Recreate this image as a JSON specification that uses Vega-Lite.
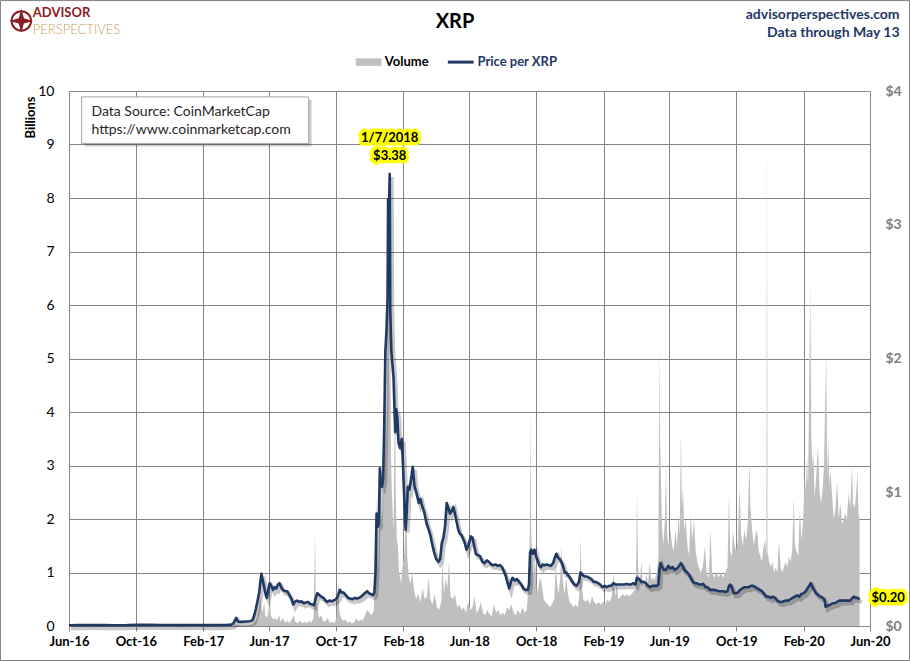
{
  "$schema": "https://vega.github.io/schema/vega-lite/v6.json",
  "description": "XRP price and trading volume, Jun-2016 to May-2020",
  "width": 801,
  "height": 535,
  "autosize": "none",
  "padding": {"left": 69, "top": 91, "right": 40, "bottom": 35},
  "background": "white",
  "config": {
    "view": {"stroke": null},
    "font": "Lato",
    "axis": {"labelFont": "Lato", "titleFont": "Lato"}
  },
  "datasets": {
    "volume": [
      {"d": "2016-06-01", "v": 0.0005}, {"d": "2016-09-01", "v": 0.001}, {"d": "2016-12-01", "v": 0.001},
      {"d": "2017-02-01", "v": 0.001}, {"d": "2017-03-20", "v": 0.003}, {"d": "2017-03-28", "v": 0.01},
      {"d": "2017-04-01", "v": 0.03}, {"d": "2017-04-05", "v": 0.02}, {"d": "2017-04-15", "v": 0.01},
      {"d": "2017-04-25", "v": 0.015}, {"d": "2017-05-01", "v": 0.03}, {"d": "2017-05-06", "v": 0.08},
      {"d": "2017-05-10", "v": 0.15}, {"d": "2017-05-13", "v": 0.32}, {"d": "2017-05-16", "v": 0.55},
      {"d": "2017-05-18", "v": 0.35}, {"d": "2017-05-20", "v": 0.25}, {"d": "2017-05-23", "v": 0.45},
      {"d": "2017-05-25", "v": 0.2}, {"d": "2017-05-28", "v": 0.15}, {"d": "2017-05-31", "v": 0.3},
      {"d": "2017-06-02", "v": 0.6}, {"d": "2017-06-04", "v": 0.2}, {"d": "2017-06-08", "v": 0.12},
      {"d": "2017-06-12", "v": 0.15}, {"d": "2017-06-15", "v": 0.1}, {"d": "2017-06-19", "v": 0.2},
      {"d": "2017-06-22", "v": 0.08}, {"d": "2017-06-26", "v": 0.15}, {"d": "2017-06-30", "v": 0.06},
      {"d": "2017-07-04", "v": 0.1}, {"d": "2017-07-08", "v": 0.05}, {"d": "2017-07-12", "v": 0.12},
      {"d": "2017-07-16", "v": 0.2}, {"d": "2017-07-19", "v": 0.08}, {"d": "2017-07-23", "v": 0.05},
      {"d": "2017-07-27", "v": 0.1}, {"d": "2017-08-01", "v": 0.05}, {"d": "2017-08-05", "v": 0.08},
      {"d": "2017-08-09", "v": 0.05}, {"d": "2017-08-13", "v": 0.1}, {"d": "2017-08-17", "v": 0.06},
      {"d": "2017-08-21", "v": 0.15}, {"d": "2017-08-24", "v": 1.75}, {"d": "2017-08-25", "v": 0.5},
      {"d": "2017-08-28", "v": 0.35}, {"d": "2017-08-31", "v": 0.15}, {"d": "2017-09-04", "v": 0.2},
      {"d": "2017-09-08", "v": 0.08}, {"d": "2017-09-12", "v": 0.1}, {"d": "2017-09-16", "v": 0.15},
      {"d": "2017-09-20", "v": 0.06}, {"d": "2017-09-24", "v": 0.08}, {"d": "2017-09-28", "v": 0.05},
      {"d": "2017-10-02", "v": 0.15}, {"d": "2017-10-05", "v": 0.85}, {"d": "2017-10-07", "v": 0.3},
      {"d": "2017-10-10", "v": 0.15}, {"d": "2017-10-14", "v": 0.1}, {"d": "2017-10-18", "v": 0.12},
      {"d": "2017-10-22", "v": 0.06}, {"d": "2017-10-26", "v": 0.08}, {"d": "2017-10-30", "v": 0.05},
      {"d": "2017-11-03", "v": 0.06}, {"d": "2017-11-07", "v": 0.15}, {"d": "2017-11-11", "v": 0.08},
      {"d": "2017-11-15", "v": 0.12}, {"d": "2017-11-19", "v": 0.1}, {"d": "2017-11-23", "v": 0.2},
      {"d": "2017-11-27", "v": 0.3}, {"d": "2017-12-01", "v": 0.25}, {"d": "2017-12-05", "v": 0.2},
      {"d": "2017-12-09", "v": 0.3}, {"d": "2017-12-12", "v": 1.2}, {"d": "2017-12-13", "v": 2.4},
      {"d": "2017-12-15", "v": 1.8}, {"d": "2017-12-17", "v": 1.1}, {"d": "2017-12-19", "v": 2.2},
      {"d": "2017-12-20", "v": 3.0}, {"d": "2017-12-22", "v": 2.2}, {"d": "2017-12-24", "v": 1.9},
      {"d": "2017-12-26", "v": 2.5}, {"d": "2017-12-27", "v": 3.1}, {"d": "2017-12-28", "v": 2.6},
      {"d": "2017-12-29", "v": 4.2}, {"d": "2017-12-30", "v": 5.5}, {"d": "2017-12-31", "v": 3.2},
      {"d": "2018-01-02", "v": 4.0}, {"d": "2018-01-03", "v": 5.0}, {"d": "2018-01-04", "v": 8.5},
      {"d": "2018-01-05", "v": 5.2}, {"d": "2018-01-06", "v": 4.3}, {"d": "2018-01-07", "v": 5.8},
      {"d": "2018-01-08", "v": 6.2}, {"d": "2018-01-09", "v": 3.6}, {"d": "2018-01-10", "v": 2.8},
      {"d": "2018-01-12", "v": 2.2}, {"d": "2018-01-14", "v": 1.8}, {"d": "2018-01-16", "v": 3.8},
      {"d": "2018-01-17", "v": 4.2}, {"d": "2018-01-18", "v": 2.5}, {"d": "2018-01-20", "v": 1.6},
      {"d": "2018-01-22", "v": 1.5}, {"d": "2018-01-24", "v": 1.0}, {"d": "2018-01-26", "v": 0.9},
      {"d": "2018-01-28", "v": 0.8}, {"d": "2018-01-30", "v": 1.1}, {"d": "2018-02-01", "v": 1.2},
      {"d": "2018-02-03", "v": 1.4}, {"d": "2018-02-05", "v": 2.0}, {"d": "2018-02-06", "v": 2.3},
      {"d": "2018-02-08", "v": 1.3}, {"d": "2018-02-11", "v": 0.9}, {"d": "2018-02-14", "v": 0.8},
      {"d": "2018-02-17", "v": 1.0}, {"d": "2018-02-20", "v": 0.7}, {"d": "2018-02-24", "v": 0.5},
      {"d": "2018-02-28", "v": 0.6}, {"d": "2018-03-04", "v": 0.45}, {"d": "2018-03-08", "v": 0.7},
      {"d": "2018-03-12", "v": 0.5}, {"d": "2018-03-16", "v": 0.55}, {"d": "2018-03-19", "v": 0.9},
      {"d": "2018-03-22", "v": 0.5}, {"d": "2018-03-26", "v": 0.4}, {"d": "2018-03-30", "v": 0.6},
      {"d": "2018-04-03", "v": 0.35}, {"d": "2018-04-07", "v": 0.3}, {"d": "2018-04-11", "v": 0.45},
      {"d": "2018-04-13", "v": 1.2}, {"d": "2018-04-16", "v": 0.6}, {"d": "2018-04-19", "v": 0.9},
      {"d": "2018-04-22", "v": 0.7}, {"d": "2018-04-25", "v": 1.2}, {"d": "2018-04-28", "v": 0.55},
      {"d": "2018-05-02", "v": 0.5}, {"d": "2018-05-06", "v": 0.6}, {"d": "2018-05-10", "v": 0.35},
      {"d": "2018-05-14", "v": 0.4}, {"d": "2018-05-18", "v": 0.3}, {"d": "2018-05-22", "v": 0.35},
      {"d": "2018-05-26", "v": 0.25}, {"d": "2018-05-30", "v": 0.45}, {"d": "2018-06-03", "v": 0.3},
      {"d": "2018-06-07", "v": 0.35}, {"d": "2018-06-11", "v": 0.55}, {"d": "2018-06-14", "v": 0.25},
      {"d": "2018-06-18", "v": 0.3}, {"d": "2018-06-22", "v": 0.45}, {"d": "2018-06-26", "v": 0.25},
      {"d": "2018-06-30", "v": 0.2}, {"d": "2018-07-04", "v": 0.3}, {"d": "2018-07-08", "v": 0.22},
      {"d": "2018-07-12", "v": 0.18}, {"d": "2018-07-16", "v": 0.4}, {"d": "2018-07-20", "v": 0.25},
      {"d": "2018-07-24", "v": 0.3}, {"d": "2018-07-28", "v": 0.2}, {"d": "2018-08-01", "v": 0.25},
      {"d": "2018-08-05", "v": 0.2}, {"d": "2018-08-09", "v": 0.35}, {"d": "2018-08-13", "v": 0.3},
      {"d": "2018-08-17", "v": 0.4}, {"d": "2018-08-21", "v": 0.25}, {"d": "2018-08-25", "v": 0.2},
      {"d": "2018-08-29", "v": 0.3}, {"d": "2018-09-02", "v": 0.22}, {"d": "2018-09-06", "v": 0.35},
      {"d": "2018-09-10", "v": 0.25}, {"d": "2018-09-14", "v": 0.3}, {"d": "2018-09-18", "v": 0.9},
      {"d": "2018-09-20", "v": 2.2}, {"d": "2018-09-21", "v": 4.1}, {"d": "2018-09-22", "v": 1.8},
      {"d": "2018-09-24", "v": 1.2}, {"d": "2018-09-26", "v": 0.9}, {"d": "2018-09-29", "v": 1.3},
      {"d": "2018-10-02", "v": 0.6}, {"d": "2018-10-05", "v": 0.7}, {"d": "2018-10-08", "v": 0.9},
      {"d": "2018-10-11", "v": 0.8}, {"d": "2018-10-15", "v": 0.5}, {"d": "2018-10-18", "v": 0.45},
      {"d": "2018-10-22", "v": 0.4}, {"d": "2018-10-26", "v": 0.35}, {"d": "2018-10-30", "v": 0.4},
      {"d": "2018-11-03", "v": 0.5}, {"d": "2018-11-06", "v": 1.2}, {"d": "2018-11-08", "v": 0.8},
      {"d": "2018-11-11", "v": 0.6}, {"d": "2018-11-14", "v": 0.9}, {"d": "2018-11-16", "v": 1.5},
      {"d": "2018-11-19", "v": 0.8}, {"d": "2018-11-22", "v": 0.6}, {"d": "2018-11-25", "v": 0.9},
      {"d": "2018-11-28", "v": 0.6}, {"d": "2018-12-01", "v": 0.45}, {"d": "2018-12-05", "v": 0.4},
      {"d": "2018-12-08", "v": 0.35}, {"d": "2018-12-12", "v": 0.4}, {"d": "2018-12-16", "v": 0.35},
      {"d": "2018-12-19", "v": 0.6}, {"d": "2018-12-21", "v": 1.65}, {"d": "2018-12-23", "v": 0.8},
      {"d": "2018-12-26", "v": 0.5}, {"d": "2018-12-30", "v": 0.45}, {"d": "2019-01-03", "v": 0.5},
      {"d": "2019-01-07", "v": 0.4}, {"d": "2019-01-11", "v": 0.55}, {"d": "2019-01-15", "v": 0.45},
      {"d": "2019-01-19", "v": 0.4}, {"d": "2019-01-23", "v": 0.45}, {"d": "2019-01-27", "v": 0.4},
      {"d": "2019-01-31", "v": 0.45}, {"d": "2019-02-04", "v": 0.4}, {"d": "2019-02-08", "v": 0.5},
      {"d": "2019-02-12", "v": 0.45}, {"d": "2019-02-16", "v": 0.55}, {"d": "2019-02-19", "v": 1.0},
      {"d": "2019-02-22", "v": 0.55}, {"d": "2019-02-25", "v": 0.8}, {"d": "2019-02-28", "v": 0.5},
      {"d": "2019-03-04", "v": 0.55}, {"d": "2019-03-08", "v": 0.6}, {"d": "2019-03-12", "v": 0.55},
      {"d": "2019-03-16", "v": 0.6}, {"d": "2019-03-20", "v": 0.55}, {"d": "2019-03-24", "v": 0.6},
      {"d": "2019-03-28", "v": 0.65}, {"d": "2019-04-01", "v": 0.7}, {"d": "2019-04-03", "v": 2.5},
      {"d": "2019-04-05", "v": 1.1}, {"d": "2019-04-08", "v": 0.8}, {"d": "2019-04-11", "v": 1.2},
      {"d": "2019-04-14", "v": 0.7}, {"d": "2019-04-17", "v": 0.75}, {"d": "2019-04-20", "v": 1.0},
      {"d": "2019-04-23", "v": 0.8}, {"d": "2019-04-26", "v": 1.2}, {"d": "2019-04-29", "v": 0.85},
      {"d": "2019-05-02", "v": 0.9}, {"d": "2019-05-05", "v": 0.85}, {"d": "2019-05-09", "v": 1.0},
      {"d": "2019-05-12", "v": 1.3}, {"d": "2019-05-14", "v": 5.3}, {"d": "2019-05-15", "v": 3.5},
      {"d": "2019-05-17", "v": 2.6}, {"d": "2019-05-19", "v": 1.8}, {"d": "2019-05-21", "v": 1.5},
      {"d": "2019-05-24", "v": 2.0}, {"d": "2019-05-26", "v": 3.0}, {"d": "2019-05-28", "v": 1.7},
      {"d": "2019-05-31", "v": 1.5}, {"d": "2019-06-03", "v": 1.8}, {"d": "2019-06-06", "v": 1.5},
      {"d": "2019-06-09", "v": 1.4}, {"d": "2019-06-12", "v": 1.8}, {"d": "2019-06-15", "v": 1.5},
      {"d": "2019-06-18", "v": 2.1}, {"d": "2019-06-20", "v": 1.7}, {"d": "2019-06-22", "v": 3.6},
      {"d": "2019-06-24", "v": 2.2}, {"d": "2019-06-26", "v": 2.6}, {"d": "2019-06-28", "v": 1.8},
      {"d": "2019-07-01", "v": 2.0}, {"d": "2019-07-04", "v": 1.5}, {"d": "2019-07-07", "v": 1.3},
      {"d": "2019-07-10", "v": 2.1}, {"d": "2019-07-13", "v": 1.6}, {"d": "2019-07-16", "v": 2.0},
      {"d": "2019-07-19", "v": 1.4}, {"d": "2019-07-22", "v": 1.2}, {"d": "2019-07-25", "v": 1.1},
      {"d": "2019-07-28", "v": 1.0}, {"d": "2019-08-01", "v": 1.1}, {"d": "2019-08-05", "v": 1.5},
      {"d": "2019-08-08", "v": 1.0}, {"d": "2019-08-12", "v": 0.9}, {"d": "2019-08-15", "v": 1.8},
      {"d": "2019-08-18", "v": 1.0}, {"d": "2019-08-22", "v": 0.9}, {"d": "2019-08-26", "v": 1.0},
      {"d": "2019-08-30", "v": 0.9}, {"d": "2019-09-03", "v": 1.0}, {"d": "2019-09-07", "v": 0.9},
      {"d": "2019-09-11", "v": 1.0}, {"d": "2019-09-15", "v": 1.1}, {"d": "2019-09-18", "v": 2.5},
      {"d": "2019-09-20", "v": 1.4}, {"d": "2019-09-23", "v": 1.3}, {"d": "2019-09-25", "v": 1.8},
      {"d": "2019-09-28", "v": 1.5}, {"d": "2019-10-01", "v": 1.4}, {"d": "2019-10-04", "v": 1.6},
      {"d": "2019-10-07", "v": 2.6}, {"d": "2019-10-10", "v": 1.7}, {"d": "2019-10-13", "v": 1.5},
      {"d": "2019-10-16", "v": 1.8}, {"d": "2019-10-19", "v": 1.6}, {"d": "2019-10-22", "v": 1.9},
      {"d": "2019-10-25", "v": 3.1}, {"d": "2019-10-27", "v": 2.2}, {"d": "2019-10-30", "v": 1.8},
      {"d": "2019-11-02", "v": 1.5}, {"d": "2019-11-05", "v": 1.7}, {"d": "2019-11-08", "v": 1.8},
      {"d": "2019-11-11", "v": 1.4}, {"d": "2019-11-14", "v": 1.3}, {"d": "2019-11-17", "v": 1.2},
      {"d": "2019-11-20", "v": 1.5}, {"d": "2019-11-23", "v": 1.6}, {"d": "2019-11-25", "v": 1.3},
      {"d": "2019-11-26", "v": 9.4}, {"d": "2019-11-27", "v": 1.4}, {"d": "2019-11-30", "v": 1.2},
      {"d": "2019-12-03", "v": 1.1}, {"d": "2019-12-06", "v": 1.2}, {"d": "2019-12-09", "v": 1.0},
      {"d": "2019-12-12", "v": 1.1}, {"d": "2019-12-15", "v": 1.0}, {"d": "2019-12-18", "v": 1.6},
      {"d": "2019-12-21", "v": 1.1}, {"d": "2019-12-24", "v": 1.0}, {"d": "2019-12-27", "v": 1.1},
      {"d": "2019-12-30", "v": 1.2}, {"d": "2020-01-02", "v": 1.1}, {"d": "2020-01-05", "v": 1.3},
      {"d": "2020-01-08", "v": 1.2}, {"d": "2020-01-11", "v": 1.4}, {"d": "2020-01-14", "v": 2.4},
      {"d": "2020-01-16", "v": 1.5}, {"d": "2020-01-19", "v": 1.4}, {"d": "2020-01-22", "v": 1.3},
      {"d": "2020-01-25", "v": 2.2}, {"d": "2020-01-28", "v": 1.6}, {"d": "2020-01-31", "v": 2.0},
      {"d": "2020-02-03", "v": 2.8}, {"d": "2020-02-05", "v": 2.5}, {"d": "2020-02-07", "v": 3.2},
      {"d": "2020-02-09", "v": 2.6}, {"d": "2020-02-11", "v": 4.3}, {"d": "2020-02-13", "v": 6.45},
      {"d": "2020-02-15", "v": 3.5}, {"d": "2020-02-17", "v": 3.0}, {"d": "2020-02-19", "v": 3.2},
      {"d": "2020-02-21", "v": 2.4}, {"d": "2020-02-24", "v": 2.8}, {"d": "2020-02-27", "v": 3.4},
      {"d": "2020-03-01", "v": 2.5}, {"d": "2020-03-04", "v": 2.3}, {"d": "2020-03-07", "v": 2.6},
      {"d": "2020-03-09", "v": 3.0}, {"d": "2020-03-12", "v": 4.5}, {"d": "2020-03-13", "v": 5.15},
      {"d": "2020-03-15", "v": 2.8}, {"d": "2020-03-17", "v": 3.5}, {"d": "2020-03-19", "v": 2.6},
      {"d": "2020-03-21", "v": 2.9}, {"d": "2020-03-24", "v": 2.4}, {"d": "2020-03-27", "v": 2.0},
      {"d": "2020-03-30", "v": 2.2}, {"d": "2020-04-02", "v": 2.7}, {"d": "2020-04-05", "v": 2.0},
      {"d": "2020-04-08", "v": 2.3}, {"d": "2020-04-11", "v": 1.9}, {"d": "2020-04-14", "v": 2.0},
      {"d": "2020-04-17", "v": 2.1}, {"d": "2020-04-20", "v": 2.0}, {"d": "2020-04-23", "v": 2.5},
      {"d": "2020-04-26", "v": 2.2}, {"d": "2020-04-29", "v": 3.0}, {"d": "2020-05-01", "v": 2.3},
      {"d": "2020-05-04", "v": 2.2}, {"d": "2020-05-07", "v": 2.5}, {"d": "2020-05-09", "v": 2.9},
      {"d": "2020-05-11", "v": 2.1}, {"d": "2020-05-13", "v": 2.0}
    ],
    "price": [
      {"d": "2016-06-01", "p": 0.006}, {"d": "2016-06-20", "p": 0.0065}, {"d": "2016-07-10", "p": 0.0068},
      {"d": "2016-08-01", "p": 0.0062}, {"d": "2016-08-25", "p": 0.006}, {"d": "2016-09-15", "p": 0.0064},
      {"d": "2016-10-05", "p": 0.0092}, {"d": "2016-10-25", "p": 0.0085}, {"d": "2016-11-15", "p": 0.008},
      {"d": "2016-12-05", "p": 0.007}, {"d": "2016-12-25", "p": 0.0064}, {"d": "2017-01-15", "p": 0.007},
      {"d": "2017-02-05", "p": 0.0063}, {"d": "2017-02-25", "p": 0.0065}, {"d": "2017-03-15", "p": 0.008},
      {"d": "2017-03-24", "p": 0.01}, {"d": "2017-03-28", "p": 0.02}, {"d": "2017-03-31", "p": 0.045},
      {"d": "2017-04-02", "p": 0.06}, {"d": "2017-04-05", "p": 0.033}, {"d": "2017-04-12", "p": 0.031},
      {"d": "2017-04-20", "p": 0.034}, {"d": "2017-04-27", "p": 0.035}, {"d": "2017-05-02", "p": 0.045},
      {"d": "2017-05-05", "p": 0.08}, {"d": "2017-05-08", "p": 0.13}, {"d": "2017-05-11", "p": 0.19},
      {"d": "2017-05-14", "p": 0.25}, {"d": "2017-05-16", "p": 0.33}, {"d": "2017-05-18", "p": 0.39},
      {"d": "2017-05-20", "p": 0.35}, {"d": "2017-05-22", "p": 0.31}, {"d": "2017-05-24", "p": 0.27},
      {"d": "2017-05-26", "p": 0.23}, {"d": "2017-05-28", "p": 0.21}, {"d": "2017-05-30", "p": 0.26},
      {"d": "2017-06-02", "p": 0.32}, {"d": "2017-06-05", "p": 0.3}, {"d": "2017-06-08", "p": 0.27},
      {"d": "2017-06-11", "p": 0.29}, {"d": "2017-06-14", "p": 0.28}, {"d": "2017-06-17", "p": 0.31},
      {"d": "2017-06-20", "p": 0.32}, {"d": "2017-06-23", "p": 0.29}, {"d": "2017-06-26", "p": 0.27},
      {"d": "2017-06-30", "p": 0.26}, {"d": "2017-07-04", "p": 0.26}, {"d": "2017-07-08", "p": 0.23},
      {"d": "2017-07-12", "p": 0.2}, {"d": "2017-07-15", "p": 0.16}, {"d": "2017-07-18", "p": 0.18},
      {"d": "2017-07-22", "p": 0.19}, {"d": "2017-07-26", "p": 0.18}, {"d": "2017-07-30", "p": 0.185},
      {"d": "2017-08-03", "p": 0.17}, {"d": "2017-08-07", "p": 0.175}, {"d": "2017-08-11", "p": 0.18},
      {"d": "2017-08-15", "p": 0.165}, {"d": "2017-08-19", "p": 0.16}, {"d": "2017-08-22", "p": 0.155},
      {"d": "2017-08-25", "p": 0.21}, {"d": "2017-08-28", "p": 0.245}, {"d": "2017-09-01", "p": 0.23},
      {"d": "2017-09-04", "p": 0.22}, {"d": "2017-09-08", "p": 0.21}, {"d": "2017-09-12", "p": 0.19},
      {"d": "2017-09-15", "p": 0.18}, {"d": "2017-09-19", "p": 0.19}, {"d": "2017-09-23", "p": 0.185},
      {"d": "2017-09-27", "p": 0.19}, {"d": "2017-10-01", "p": 0.2}, {"d": "2017-10-04", "p": 0.22},
      {"d": "2017-10-08", "p": 0.27}, {"d": "2017-10-11", "p": 0.25}, {"d": "2017-10-15", "p": 0.25},
      {"d": "2017-10-19", "p": 0.23}, {"d": "2017-10-23", "p": 0.21}, {"d": "2017-10-27", "p": 0.205},
      {"d": "2017-10-31", "p": 0.2}, {"d": "2017-11-04", "p": 0.21}, {"d": "2017-11-08", "p": 0.205},
      {"d": "2017-11-12", "p": 0.21}, {"d": "2017-11-16", "p": 0.22}, {"d": "2017-11-20", "p": 0.235},
      {"d": "2017-11-24", "p": 0.25}, {"d": "2017-11-27", "p": 0.26}, {"d": "2017-11-30", "p": 0.245},
      {"d": "2017-12-03", "p": 0.24}, {"d": "2017-12-07", "p": 0.23}, {"d": "2017-12-10", "p": 0.25},
      {"d": "2017-12-12", "p": 0.4}, {"d": "2017-12-14", "p": 0.84}, {"d": "2017-12-16", "p": 0.74},
      {"d": "2017-12-18", "p": 0.76}, {"d": "2017-12-20", "p": 1.18}, {"d": "2017-12-22", "p": 1.05},
      {"d": "2017-12-24", "p": 1.04}, {"d": "2017-12-26", "p": 1.1}, {"d": "2017-12-28", "p": 1.5},
      {"d": "2017-12-30", "p": 2.05}, {"d": "2018-01-01", "p": 2.2}, {"d": "2018-01-03", "p": 2.45},
      {"d": "2018-01-04", "p": 3.19}, {"d": "2018-01-05", "p": 3.0}, {"d": "2018-01-07", "p": 3.38},
      {"d": "2018-01-08", "p": 2.35}, {"d": "2018-01-10", "p": 2.05}, {"d": "2018-01-12", "p": 1.95},
      {"d": "2018-01-14", "p": 1.85}, {"d": "2018-01-17", "p": 1.45}, {"d": "2018-01-19", "p": 1.62},
      {"d": "2018-01-21", "p": 1.55}, {"d": "2018-01-23", "p": 1.37}, {"d": "2018-01-26", "p": 1.33},
      {"d": "2018-01-29", "p": 1.4}, {"d": "2018-01-31", "p": 1.22}, {"d": "2018-02-03", "p": 0.9},
      {"d": "2018-02-05", "p": 0.72}, {"d": "2018-02-07", "p": 0.85}, {"d": "2018-02-09", "p": 1.04},
      {"d": "2018-02-12", "p": 1.02}, {"d": "2018-02-15", "p": 1.1}, {"d": "2018-02-18", "p": 1.19},
      {"d": "2018-02-21", "p": 1.05}, {"d": "2018-02-25", "p": 0.99}, {"d": "2018-03-01", "p": 0.92},
      {"d": "2018-03-04", "p": 0.95}, {"d": "2018-03-07", "p": 0.9}, {"d": "2018-03-11", "p": 0.85},
      {"d": "2018-03-15", "p": 0.77}, {"d": "2018-03-19", "p": 0.72}, {"d": "2018-03-22", "p": 0.68},
      {"d": "2018-03-25", "p": 0.62}, {"d": "2018-03-29", "p": 0.55}, {"d": "2018-04-02", "p": 0.5},
      {"d": "2018-04-06", "p": 0.48}, {"d": "2018-04-09", "p": 0.5}, {"d": "2018-04-12", "p": 0.62},
      {"d": "2018-04-15", "p": 0.66}, {"d": "2018-04-18", "p": 0.75}, {"d": "2018-04-21", "p": 0.92},
      {"d": "2018-04-24", "p": 0.88}, {"d": "2018-04-27", "p": 0.84}, {"d": "2018-04-30", "p": 0.86},
      {"d": "2018-05-03", "p": 0.89}, {"d": "2018-05-06", "p": 0.84}, {"d": "2018-05-09", "p": 0.78},
      {"d": "2018-05-12", "p": 0.72}, {"d": "2018-05-15", "p": 0.69}, {"d": "2018-05-18", "p": 0.68},
      {"d": "2018-05-21", "p": 0.65}, {"d": "2018-05-24", "p": 0.62}, {"d": "2018-05-27", "p": 0.57},
      {"d": "2018-05-31", "p": 0.61}, {"d": "2018-06-04", "p": 0.67}, {"d": "2018-06-07", "p": 0.66},
      {"d": "2018-06-10", "p": 0.6}, {"d": "2018-06-13", "p": 0.54}, {"d": "2018-06-17", "p": 0.53},
      {"d": "2018-06-21", "p": 0.52}, {"d": "2018-06-25", "p": 0.48}, {"d": "2018-06-29", "p": 0.47},
      {"d": "2018-07-03", "p": 0.49}, {"d": "2018-07-07", "p": 0.48}, {"d": "2018-07-11", "p": 0.46},
      {"d": "2018-07-15", "p": 0.455}, {"d": "2018-07-19", "p": 0.46}, {"d": "2018-07-23", "p": 0.45},
      {"d": "2018-07-27", "p": 0.455}, {"d": "2018-07-31", "p": 0.44}, {"d": "2018-08-04", "p": 0.4},
      {"d": "2018-08-07", "p": 0.37}, {"d": "2018-08-10", "p": 0.32}, {"d": "2018-08-13", "p": 0.28},
      {"d": "2018-08-16", "p": 0.33}, {"d": "2018-08-19", "p": 0.36}, {"d": "2018-08-23", "p": 0.34},
      {"d": "2018-08-27", "p": 0.35}, {"d": "2018-08-31", "p": 0.33}, {"d": "2018-09-04", "p": 0.31},
      {"d": "2018-09-08", "p": 0.28}, {"d": "2018-09-12", "p": 0.27}, {"d": "2018-09-16", "p": 0.27},
      {"d": "2018-09-18", "p": 0.31}, {"d": "2018-09-20", "p": 0.55}, {"d": "2018-09-22", "p": 0.57},
      {"d": "2018-09-25", "p": 0.54}, {"d": "2018-09-28", "p": 0.57}, {"d": "2018-10-01", "p": 0.52},
      {"d": "2018-10-04", "p": 0.49}, {"d": "2018-10-07", "p": 0.45}, {"d": "2018-10-10", "p": 0.44},
      {"d": "2018-10-13", "p": 0.46}, {"d": "2018-10-16", "p": 0.455}, {"d": "2018-10-20", "p": 0.46},
      {"d": "2018-10-24", "p": 0.455}, {"d": "2018-10-28", "p": 0.45}, {"d": "2018-11-01", "p": 0.47},
      {"d": "2018-11-04", "p": 0.51}, {"d": "2018-11-07", "p": 0.54}, {"d": "2018-11-10", "p": 0.51},
      {"d": "2018-11-13", "p": 0.5}, {"d": "2018-11-16", "p": 0.48}, {"d": "2018-11-19", "p": 0.45},
      {"d": "2018-11-22", "p": 0.4}, {"d": "2018-11-25", "p": 0.4}, {"d": "2018-11-28", "p": 0.38},
      {"d": "2018-12-02", "p": 0.36}, {"d": "2018-12-06", "p": 0.33}, {"d": "2018-12-10", "p": 0.31},
      {"d": "2018-12-14", "p": 0.3}, {"d": "2018-12-18", "p": 0.33}, {"d": "2018-12-21", "p": 0.4},
      {"d": "2018-12-25", "p": 0.38}, {"d": "2018-12-29", "p": 0.37}, {"d": "2019-01-02", "p": 0.37},
      {"d": "2019-01-06", "p": 0.36}, {"d": "2019-01-10", "p": 0.35}, {"d": "2019-01-14", "p": 0.33},
      {"d": "2019-01-18", "p": 0.33}, {"d": "2019-01-22", "p": 0.32}, {"d": "2019-01-26", "p": 0.31},
      {"d": "2019-01-30", "p": 0.29}, {"d": "2019-02-03", "p": 0.3}, {"d": "2019-02-07", "p": 0.29},
      {"d": "2019-02-11", "p": 0.3}, {"d": "2019-02-15", "p": 0.3}, {"d": "2019-02-19", "p": 0.32},
      {"d": "2019-02-23", "p": 0.31}, {"d": "2019-02-27", "p": 0.31}, {"d": "2019-03-03", "p": 0.31},
      {"d": "2019-03-07", "p": 0.31}, {"d": "2019-03-11", "p": 0.31}, {"d": "2019-03-15", "p": 0.315},
      {"d": "2019-03-19", "p": 0.31}, {"d": "2019-03-23", "p": 0.31}, {"d": "2019-03-27", "p": 0.32},
      {"d": "2019-03-31", "p": 0.31}, {"d": "2019-04-03", "p": 0.36}, {"d": "2019-04-07", "p": 0.35},
      {"d": "2019-04-11", "p": 0.33}, {"d": "2019-04-15", "p": 0.33}, {"d": "2019-04-19", "p": 0.32},
      {"d": "2019-04-23", "p": 0.3}, {"d": "2019-04-27", "p": 0.29}, {"d": "2019-05-01", "p": 0.3},
      {"d": "2019-05-05", "p": 0.3}, {"d": "2019-05-09", "p": 0.3}, {"d": "2019-05-12", "p": 0.31},
      {"d": "2019-05-14", "p": 0.42}, {"d": "2019-05-16", "p": 0.47}, {"d": "2019-05-19", "p": 0.44},
      {"d": "2019-05-22", "p": 0.42}, {"d": "2019-05-26", "p": 0.42}, {"d": "2019-05-30", "p": 0.45},
      {"d": "2019-06-03", "p": 0.43}, {"d": "2019-06-07", "p": 0.44}, {"d": "2019-06-11", "p": 0.42},
      {"d": "2019-06-15", "p": 0.43}, {"d": "2019-06-19", "p": 0.45}, {"d": "2019-06-22", "p": 0.47},
      {"d": "2019-06-25", "p": 0.45}, {"d": "2019-06-28", "p": 0.42}, {"d": "2019-07-02", "p": 0.405},
      {"d": "2019-07-06", "p": 0.39}, {"d": "2019-07-10", "p": 0.36}, {"d": "2019-07-14", "p": 0.33},
      {"d": "2019-07-17", "p": 0.32}, {"d": "2019-07-21", "p": 0.32}, {"d": "2019-07-25", "p": 0.31},
      {"d": "2019-07-29", "p": 0.31}, {"d": "2019-08-02", "p": 0.315}, {"d": "2019-08-06", "p": 0.29},
      {"d": "2019-08-10", "p": 0.29}, {"d": "2019-08-14", "p": 0.27}, {"d": "2019-08-18", "p": 0.27},
      {"d": "2019-08-22", "p": 0.27}, {"d": "2019-08-26", "p": 0.265}, {"d": "2019-08-30", "p": 0.26},
      {"d": "2019-09-03", "p": 0.26}, {"d": "2019-09-07", "p": 0.26}, {"d": "2019-09-11", "p": 0.255},
      {"d": "2019-09-15", "p": 0.26}, {"d": "2019-09-18", "p": 0.3}, {"d": "2019-09-20", "p": 0.31},
      {"d": "2019-09-23", "p": 0.29}, {"d": "2019-09-26", "p": 0.245}, {"d": "2019-09-30", "p": 0.245},
      {"d": "2019-10-04", "p": 0.25}, {"d": "2019-10-08", "p": 0.27}, {"d": "2019-10-12", "p": 0.28},
      {"d": "2019-10-16", "p": 0.29}, {"d": "2019-10-20", "p": 0.29}, {"d": "2019-10-24", "p": 0.29},
      {"d": "2019-10-28", "p": 0.3}, {"d": "2019-11-01", "p": 0.3}, {"d": "2019-11-05", "p": 0.29},
      {"d": "2019-11-09", "p": 0.28}, {"d": "2019-11-13", "p": 0.27}, {"d": "2019-11-17", "p": 0.26},
      {"d": "2019-11-21", "p": 0.24}, {"d": "2019-11-25", "p": 0.22}, {"d": "2019-11-29", "p": 0.22},
      {"d": "2019-12-03", "p": 0.21}, {"d": "2019-12-07", "p": 0.22}, {"d": "2019-12-11", "p": 0.21},
      {"d": "2019-12-15", "p": 0.19}, {"d": "2019-12-19", "p": 0.18}, {"d": "2019-12-23", "p": 0.18},
      {"d": "2019-12-27", "p": 0.185}, {"d": "2019-12-31", "p": 0.19}, {"d": "2020-01-04", "p": 0.19},
      {"d": "2020-01-08", "p": 0.2}, {"d": "2020-01-12", "p": 0.21}, {"d": "2020-01-16", "p": 0.22},
      {"d": "2020-01-20", "p": 0.23}, {"d": "2020-01-24", "p": 0.22}, {"d": "2020-01-28", "p": 0.24},
      {"d": "2020-02-01", "p": 0.245}, {"d": "2020-02-05", "p": 0.26}, {"d": "2020-02-08", "p": 0.28},
      {"d": "2020-02-11", "p": 0.3}, {"d": "2020-02-14", "p": 0.32}, {"d": "2020-02-17", "p": 0.29},
      {"d": "2020-02-20", "p": 0.27}, {"d": "2020-02-24", "p": 0.245}, {"d": "2020-02-28", "p": 0.23},
      {"d": "2020-03-03", "p": 0.22}, {"d": "2020-03-07", "p": 0.21}, {"d": "2020-03-10", "p": 0.2},
      {"d": "2020-03-12", "p": 0.144}, {"d": "2020-03-15", "p": 0.15}, {"d": "2020-03-18", "p": 0.155},
      {"d": "2020-03-21", "p": 0.16}, {"d": "2020-03-25", "p": 0.17}, {"d": "2020-03-29", "p": 0.17},
      {"d": "2020-04-02", "p": 0.18}, {"d": "2020-04-06", "p": 0.19}, {"d": "2020-04-10", "p": 0.19},
      {"d": "2020-04-14", "p": 0.19}, {"d": "2020-04-18", "p": 0.19}, {"d": "2020-04-22", "p": 0.19},
      {"d": "2020-04-26", "p": 0.19}, {"d": "2020-04-30", "p": 0.21}, {"d": "2020-05-03", "p": 0.22},
      {"d": "2020-05-06", "p": 0.21}, {"d": "2020-05-09", "p": 0.21}, {"d": "2020-05-13", "p": 0.2}
    ]
  },
  "layer": [
    {
      "layer": [
        {
          "data": {"name": "volume"},
          "mark": {"type": "area", "color": "#bfbfbf", "interpolate": "linear"},
          "encoding": {
            "x": {
              "field": "d", "type": "temporal",
              "scale": {"type": "utc", "domain": [{"year": 2016, "month": 6, "date": 1, "utc": true}, {"year": 2020, "month": 6, "date": 1, "utc": true}]},
              "axis": {
                "title": null,
                "values": [
                  {"year": 2016, "month": 6, "date": 1, "utc": true}, {"year": 2016, "month": 10, "date": 1, "utc": true},
                  {"year": 2017, "month": 2, "date": 1, "utc": true}, {"year": 2017, "month": 6, "date": 1, "utc": true},
                  {"year": 2017, "month": 10, "date": 1, "utc": true}, {"year": 2018, "month": 2, "date": 1, "utc": true},
                  {"year": 2018, "month": 6, "date": 1, "utc": true}, {"year": 2018, "month": 10, "date": 1, "utc": true},
                  {"year": 2019, "month": 2, "date": 1, "utc": true}, {"year": 2019, "month": 6, "date": 1, "utc": true},
                  {"year": 2019, "month": 10, "date": 1, "utc": true}, {"year": 2020, "month": 2, "date": 1, "utc": true},
                  {"year": 2020, "month": 6, "date": 1, "utc": true}
                ],
                "format": "%b-%y",
                "labelFlush": false,
                "labelOverlap": false,
                "labelFontSize": 13,
                "labelFontWeight": "bold",
                "labelColor": "#000000",
                "labelPadding": 4,
                "grid": true,
                "gridColor": "#868686",
                "domainColor": "#868686",
                "tickColor": "#868686",
                "tickSize": 5
              }
            },
            "y": {
              "field": "v", "type": "quantitative",
              "scale": {"domain": [0, 10], "nice": false},
              "axis": {
                "title": "Billions",
                "titleFontSize": 13,
                "titleFontWeight": "bold",
                "titleColor": "#000000",
                "titleAngle": -90,
                "titleAlign": "right",
                "titleBaseline": "middle",
                "titleX": -39,
                "titleY": 5,
                "values": [0, 1, 2, 3, 4, 5, 6, 7, 8, 9, 10],
                "labelFontSize": 14,
                "labelColor": "#000000",
                "labelPadding": 15,
                "ticks": false,
                "domain": false,
                "grid": true,
                "gridColor": "#868686"
              }
            }
          }
        },
        {
          "data": {"values": [{}]},
          "mark": {"type": "rect", "fillOpacity": 0, "stroke": "#808080", "strokeWidth": 1},
          "encoding": {
            "x": {"datum": {"year": 2016, "month": 1, "date": 28, "utc": true}, "type": "temporal"},
            "x2": {"datum": {"year": 2020, "month": 8, "date": 12, "utc": true}},
            "y": {"datum": 11.69, "type": "quantitative"},
            "y2": {"datum": -0.645}
          }
        },
        {
          "data": {"values": [{}]},
          "mark": {"type": "text", "text": "XRP", "fontSize": 20, "fontWeight": "bold", "color": "#000000", "align": "center", "baseline": "middle"},
          "encoding": {
            "x": {"datum": {"year": 2018, "month": 5, "date": 6, "utc": true}, "type": "temporal"},
            "y": {"datum": 11.29, "type": "quantitative"}
          }
        },
        {
          "data": {"values": [{}]},
          "mark": {"type": "text", "text": "advisorperspectives.com", "fontSize": 14, "fontWeight": "bold", "color": "#1f3864", "align": "right", "baseline": "middle"},
          "encoding": {
            "x": {"datum": {"year": 2020, "month": 7, "date": 25, "utc": true}, "type": "temporal"},
            "y": {"datum": 11.42, "type": "quantitative"}
          }
        },
        {
          "data": {"values": [{}]},
          "mark": {"type": "text", "text": "Data through May 13", "fontSize": 14, "fontWeight": "bold", "color": "#1f3864", "align": "right", "baseline": "middle"},
          "encoding": {
            "x": {"datum": {"year": 2020, "month": 7, "date": 25, "utc": true}, "type": "temporal"},
            "y": {"datum": 11.08, "type": "quantitative"}
          }
        },
        {
          "data": {"values": [{}]},
          "mark": {"type": "point", "shape": "circle", "size": 380, "filled": false, "stroke": "#8b1d24", "strokeWidth": 2, "opacity": 1},
          "encoding": {
            "x": {"datum": {"year": 2016, "month": 3, "date": 6, "utc": true}, "type": "temporal"},
            "y": {"datum": 11.31, "type": "quantitative"}
          }
        },
        {
          "data": {"values": [{}]},
          "mark": {"type": "point", "shape": "M0,-1L0.22,-0.22L1,0L0.22,0.22L0,1L-0.22,0.22L-1,0L-0.22,-0.22Z", "size": 560, "filled": true, "color": "#8b1d24", "opacity": 1},
          "encoding": {
            "x": {"datum": {"year": 2016, "month": 3, "date": 6, "utc": true}, "type": "temporal"},
            "y": {"datum": 11.31, "type": "quantitative"}
          }
        },
        {
          "data": {"values": [{}]},
          "mark": {"type": "text", "text": "ADVISOR", "fontSize": 13, "fontWeight": "bold", "color": "#8b1d24", "align": "left", "baseline": "middle"},
          "encoding": {
            "x": {"datum": {"year": 2016, "month": 3, "date": 27, "utc": true}, "type": "temporal"},
            "y": {"datum": 11.45, "type": "quantitative"}
          }
        },
        {
          "data": {"values": [{}]},
          "mark": {"type": "text", "text": "PERSPECTIVES", "fontSize": 13, "fontWeight": 300, "color": "#c4a15a", "align": "left", "baseline": "middle"},
          "encoding": {
            "x": {"datum": {"year": 2016, "month": 3, "date": 27, "utc": true}, "type": "temporal"},
            "y": {"datum": 11.14, "type": "quantitative"}
          }
        },
        {
          "data": {"values": [{}]},
          "mark": {"type": "rect", "fill": "#bfbfbf"},
          "encoding": {
            "x": {"datum": {"year": 2017, "month": 11, "date": 6, "utc": true}, "type": "temporal"},
            "x2": {"datum": {"year": 2017, "month": 12, "date": 23, "utc": true}},
            "y": {"datum": 10.61, "type": "quantitative"},
            "y2": {"datum": 10.47}
          }
        },
        {
          "data": {"values": [{}]},
          "mark": {"type": "text", "text": "Volume", "fontSize": 13, "fontWeight": "bold", "color": "#000000", "align": "left", "baseline": "middle"},
          "encoding": {
            "x": {"datum": {"year": 2017, "month": 12, "date": 29, "utc": true}, "type": "temporal"},
            "y": {"datum": 10.55, "type": "quantitative"}
          }
        },
        {
          "data": {"values": [{}]},
          "mark": {"type": "rule", "color": "#1f3864", "strokeWidth": 3},
          "encoding": {
            "x": {"datum": {"year": 2018, "month": 4, "date": 23, "utc": true}, "type": "temporal"},
            "x2": {"datum": {"year": 2018, "month": 6, "date": 9, "utc": true}},
            "y": {"datum": 10.54, "type": "quantitative"}
          }
        },
        {
          "data": {"values": [{}]},
          "mark": {"type": "text", "text": "Price per XRP", "fontSize": 13, "fontWeight": "bold", "color": "#1f3864", "align": "left", "baseline": "middle"},
          "encoding": {
            "x": {"datum": {"year": 2018, "month": 6, "date": 16, "utc": true}, "type": "temporal"},
            "y": {"datum": 10.55, "type": "quantitative"}
          }
        },
        {
          "data": {"values": [{}]},
          "mark": {"type": "rect", "fill": "#000000", "opacity": 0.2, "xOffset": 3, "x2Offset": 3, "yOffset": 3, "y2Offset": 3},
          "encoding": {
            "x": {"datum": {"year": 2016, "month": 6, "date": 24, "utc": true}, "type": "temporal"},
            "x2": {"datum": {"year": 2017, "month": 8, "date": 12, "utc": true}},
            "y": {"datum": 9.89, "type": "quantitative"},
            "y2": {"datum": 9.02}
          }
        },
        {
          "data": {"values": [{}]},
          "mark": {"type": "rect", "fill": "#ffffff", "stroke": "#a6a6a6", "strokeWidth": 1},
          "encoding": {
            "x": {"datum": {"year": 2016, "month": 6, "date": 24, "utc": true}, "type": "temporal"},
            "x2": {"datum": {"year": 2017, "month": 8, "date": 12, "utc": true}},
            "y": {"datum": 9.89, "type": "quantitative"},
            "y2": {"datum": 9.02}
          }
        },
        {
          "data": {"values": [{}]},
          "mark": {"type": "text", "text": "Data Source: CoinMarketCap", "fontSize": 14, "color": "#262626", "align": "left", "baseline": "middle"},
          "encoding": {
            "x": {"datum": {"year": 2016, "month": 7, "date": 12, "utc": true}, "type": "temporal"},
            "y": {"datum": 9.61, "type": "quantitative"}
          }
        },
        {
          "data": {"values": [{}]},
          "mark": {"type": "text", "text": "https://www.coinmarketcap.com", "fontSize": 14, "color": "#262626", "align": "left", "baseline": "middle"},
          "encoding": {
            "x": {"datum": {"year": 2016, "month": 7, "date": 12, "utc": true}, "type": "temporal"},
            "y": {"datum": 9.28, "type": "quantitative"}
          }
        }
      ]
    },
    {
      "layer": [
        {
          "data": {"name": "price"},
          "mark": {"type": "line", "color": "#000000", "opacity": 0.22, "strokeWidth": 4, "xOffset": 2, "yOffset": 3},
          "encoding": {
            "x": {"field": "d", "type": "temporal", "scale": {"type": "utc", "domain": [{"year": 2016, "month": 6, "date": 1, "utc": true}, {"year": 2020, "month": 6, "date": 1, "utc": true}]}},
            "y": {"field": "p", "type": "quantitative", "scale": {"domain": [0, 4], "nice": false}}
          }
        },
        {
          "data": {"name": "price"},
          "mark": {"type": "line", "color": "#1f3864", "strokeWidth": 2.6, "strokeJoin": "round"},
          "encoding": {
            "x": {"field": "d", "type": "temporal"},
            "y": {
              "field": "p", "type": "quantitative",
              "axis": {
                "orient": "right",
                "title": null,
                "values": [0, 1, 2, 3, 4],
                "labelExpr": "'$' + datum.value",
                "labelFontSize": 14,
                "labelFontWeight": "bold",
                "labelColor": "#808080",
                "labelPadding": 15,
                "ticks": false,
                "domain": false,
                "grid": false
              }
            }
          }
        },
        {
          "data": {"values": [{}]},
          "mark": {"type": "text", "text": "1/7/2018", "fontSize": 13, "fontWeight": "bold", "align": "center", "baseline": "middle", "dy": -36, "fill": "#ffff00", "stroke": "#ffff00", "strokeWidth": 7, "strokeJoin": "round"},
          "encoding": {
            "x": {"datum": {"year": 2018, "month": 1, "date": 7, "utc": true}, "type": "temporal"},
            "y": {"datum": 3.38, "type": "quantitative"}
          }
        },
        {
          "data": {"values": [{}]},
          "mark": {"type": "text", "text": "$3.38", "fontSize": 13, "fontWeight": "bold", "align": "center", "baseline": "middle", "dy": -18, "fill": "#ffff00", "stroke": "#ffff00", "strokeWidth": 7, "strokeJoin": "round"},
          "encoding": {
            "x": {"datum": {"year": 2018, "month": 1, "date": 7, "utc": true}, "type": "temporal"},
            "y": {"datum": 3.38, "type": "quantitative"}
          }
        },
        {
          "data": {"values": [{}]},
          "mark": {"type": "text", "text": "1/7/2018", "fontSize": 13, "fontWeight": "bold", "align": "center", "baseline": "middle", "dy": -36, "color": "#000000"},
          "encoding": {
            "x": {"datum": {"year": 2018, "month": 1, "date": 7, "utc": true}, "type": "temporal"},
            "y": {"datum": 3.38, "type": "quantitative"}
          }
        },
        {
          "data": {"values": [{}]},
          "mark": {"type": "text", "text": "$3.38", "fontSize": 13, "fontWeight": "bold", "align": "center", "baseline": "middle", "dy": -18, "color": "#000000"},
          "encoding": {
            "x": {"datum": {"year": 2018, "month": 1, "date": 7, "utc": true}, "type": "temporal"},
            "y": {"datum": 3.38, "type": "quantitative"}
          }
        },
        {
          "data": {"values": [{}]},
          "mark": {"type": "text", "text": "$0.20", "fontSize": 13, "fontWeight": "bold", "align": "left", "baseline": "middle", "dx": 12, "dy": -1, "fill": "#ffff00", "stroke": "#ffff00", "strokeWidth": 7, "strokeJoin": "round"},
          "encoding": {
            "x": {"datum": {"year": 2020, "month": 5, "date": 13, "utc": true}, "type": "temporal"},
            "y": {"datum": 0.2, "type": "quantitative"}
          }
        },
        {
          "data": {"values": [{}]},
          "mark": {"type": "text", "text": "$0.20", "fontSize": 13, "fontWeight": "bold", "align": "left", "baseline": "middle", "dx": 12, "dy": -1, "color": "#000000"},
          "encoding": {
            "x": {"datum": {"year": 2020, "month": 5, "date": 13, "utc": true}, "type": "temporal"},
            "y": {"datum": 0.2, "type": "quantitative"}
          }
        }
      ]
    }
  ],
  "resolve": {"scale": {"y": "independent"}}
}
